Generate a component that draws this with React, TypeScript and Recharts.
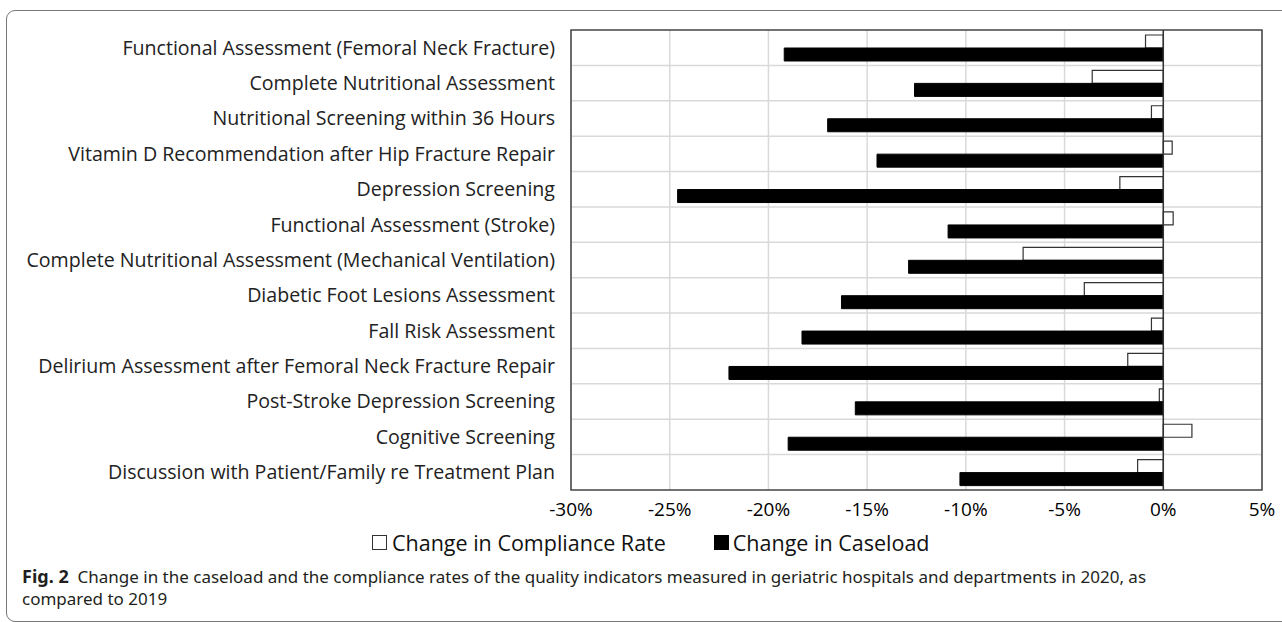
import { BarChart, Bar, XAxis, YAxis, CartesianGrid, ReferenceLine, ReferenceArea } from "recharts";

const categories = [
  "Functional Assessment (Femoral Neck Fracture)",
  "Complete Nutritional Assessment",
  "Nutritional Screening within 36 Hours",
  "Vitamin D Recommendation after Hip Fracture Repair",
  "Depression Screening",
  "Functional Assessment (Stroke)",
  "Complete Nutritional Assessment (Mechanical Ventilation)",
  "Diabetic Foot Lesions Assessment",
  "Fall Risk Assessment ",
  "Delirium Assessment after Femoral Neck Fracture Repair",
  "Post-Stroke Depression Screening",
  "Cognitive Screening",
  "Discussion with Patient/Family re Treatment Plan",
];
const complianceChange = [-0.9, -3.6, -0.6, 0.45, -2.2, 0.5, -7.1, -4.0, -0.6, -1.8, -0.2, 1.45, -1.3];
const caseloadChange = [-19.2, -12.6, -17.0, -14.5, -24.6, -10.9, -12.9, -16.3, -18.3, -22.0, -15.6, -19.0, -10.3];
const xTicks = [-30, -25, -20, -15, -10, -5, 0, 5];

const data = categories.map((name, i) => ({
  name,
  compliance: complianceChange[i],
  caseload: caseloadChange[i],
}));

const labelFont = "'Open Sans', Lato, sans-serif";

export default function App() {
  return (
    <div style={{ position: "fixed", left: 0, top: 0, width: 1282, height: 622, background: "#fff", overflow: "hidden" }}>
      <div
        style={{
          position: "absolute", left: 6, top: 10, width: 1300, height: 612,
          border: "1px solid #777", borderRadius: 9, boxSizing: "border-box",
        }}
      />
      <div style={{ position: "absolute", left: 0, top: 0 }}>
        <BarChart
          width={1282}
          height={530}
          data={data}
          layout="vertical"
          margin={{ top: 30, right: 20, bottom: 10, left: 0 }}
          barGap={0}
          barSize={13}
        >
          <CartesianGrid
            stroke="#d9d9d9"
            strokeWidth={1.5}
            horizontalCoordinatesGenerator={({ offset }: any) =>
              categories.slice(1).map((_, i) => offset.top + ((i + 1) * offset.height) / categories.length)
            }
          />
          <XAxis
            type="number"
            domain={[-30, 5]}
            ticks={xTicks}
            tickFormatter={(v: number) => `${v}%`}
            axisLine={false}
            tickLine={false}
            tickSize={0}
            tickMargin={13}
            height={30}
            tick={{ fill: "#000", fontSize: 19, fontFamily: labelFont }}
          />
          <YAxis
            type="category"
            dataKey="name"
            width={571}
            axisLine={false}
            tickLine={false}
            tickSize={0}
            tickMargin={16}
            interval={0}
            tick={{ fill: "#222", fontSize: 19.6, fontFamily: labelFont }}
          />
          <ReferenceArea x1={-30} x2={5} fill="none" stroke="#444" strokeWidth={1.5} ifOverflow="visible" />
          <Bar dataKey="compliance" fill="#fff" stroke="#333" strokeWidth={1.2} isAnimationActive={false} />
          <Bar dataKey="caseload" fill="#000" stroke="#000" isAnimationActive={false} />
          <ReferenceLine x={0} stroke="#333" strokeWidth={1.5} />
        </BarChart>
      </div>
      <div
        style={{
          position: "absolute", left: 372, top: 528, display: "flex", alignItems: "center",
          fontFamily: labelFont, fontSize: 21.5, color: "#111", whiteSpace: "nowrap",
        }}
      >
        <span style={{ width: 13, height: 13, border: "1px solid #333", background: "#fff", marginRight: 5, display: "inline-block" }} />
        <span>Change in Compliance Rate</span>
        <span style={{ width: 15, height: 15, background: "#000", marginLeft: 48, marginRight: 4, display: "inline-block" }} />
        <span>Change in Caseload</span>
      </div>
      <div
        style={{
          position: "absolute", left: 22, top: 565, width: 1250,
          fontFamily: "'Noto Sans', sans-serif", fontSize: 17, lineHeight: "22px", color: "#231f20",
          whiteSpace: "nowrap",
        }}
      >
        <b style={{ fontSize: 18 }}>Fig. 2</b>&nbsp; Change in the caseload and the compliance rates of the quality indicators measured in geriatric hospitals and departments in 2020, as
        <br />
        compared to 2019
      </div>
    </div>
  );
}
